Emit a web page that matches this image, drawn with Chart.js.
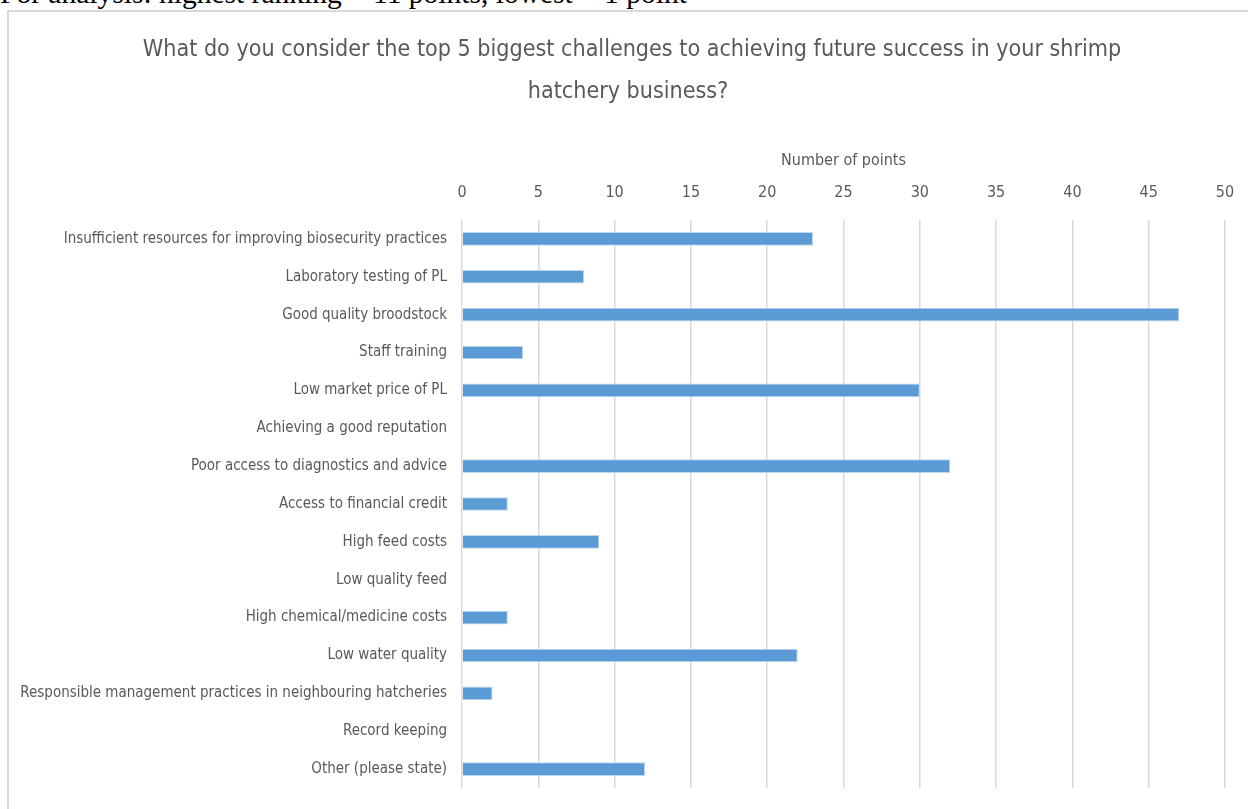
<!DOCTYPE html>
<html>
<head>
<meta charset="utf-8">
<script src="https://cdn.jsdelivr.net/npm/chart.js@4"></script>
<style>
  body { margin: 0; background: #fff; overflow: hidden; }
  #note { position: absolute; left: 0; top: -21px; font: 29.5px "Liberation Serif", "DejaVu Serif", serif; line-height: 1; color: #000; white-space: nowrap; }
  #frame { position: absolute; left: 7px; top: 10px; width: 1260px; height: 820px; border: 2px solid #d9d9d9; }
  #wrap { position: absolute; left: 0; top: 0; width: 1248px; height: 809px; }
</style>
</head>
<body>
<div id="note">For analysis: highest ranking = 11 points, lowest = 1 point</div>
<div id="frame"></div>
<div id="wrap"><canvas id="myChart" width="1248" height="809"></canvas></div>
<script>
const categories = [
    'Insufficient resources for improving biosecurity practices',
    'Laboratory testing of PL',
    'Good quality broodstock',
    'Staff training',
    'Low market price of PL',
    'Achieving a good reputation',
    'Poor access to diagnostics and advice',
    'Access to financial credit',
    'High feed costs',
    'Low quality feed',
    'High chemical/medicine costs',
    'Low water quality',
    'Responsible management practices in neighbouring hatcheries',
    'Record keeping',
    'Other (please state)'
];
const points = [23, 8, 47, 4, 30, 0, 32, 3, 9, 0, 3, 22, 2, 0, 12];
const tickValues = [0, 5, 10, 15, 20, 25, 30, 35, 40, 45, 50];
const titleLines = ['What do you consider the top 5 biggest challenges to achieving future success in your shrimp', 'hatchery business?'];

const textColor = '#595959';

// pick the narrowest installed sans family (the original uses Calibri)
const ctx = document.createElement('canvas').getContext('2d');
function hasFont(name) {
    ctx.font = '40px monospace';
    const a = ctx.measureText('abcdefghijklmnopqrstuvwxyz').width;
    ctx.font = '40px "' + name + '", monospace';
    return ctx.measureText('abcdefghijklmnopqrstuvwxyz').width !== a;
}
const family = ['Liberation Sans Narrow', 'DejaVu Sans Condensed', 'Roboto', 'Lato', 'Open Sans'].find(hasFont) || 'sans-serif';
const fam = '"' + family + '", sans-serif';
function fitSize(text, target, max) {
    ctx.font = '100px ' + fam;
    return Math.min(max, 100 * target / ctx.measureText(text).width);
}
const labelSize = fitSize(categories[12], 427, 17);
const titleSize = fitSize(titleLines[0], 979, 24);

// chart title, centred on the outer chart frame like the original
const frameTitle = {
    id: 'frameTitle',
    afterDraw(chart) {
        const c = chart.ctx;
        c.save();
        c.fillStyle = textColor;
        c.font = titleSize + 'px ' + fam;
        c.textAlign = 'center';
        c.textBaseline = 'middle';
        c.fillText(titleLines[0], 632, 50);
        c.fillText(titleLines[1], 628, 92);
        c.restore();
    }
};

new Chart(document.getElementById("myChart"), {
    type: 'bar',
    data: {
        labels: categories,
        datasets: [{
            label: 'Number of points',
            data: points,
            backgroundColor: '#5b9bd5',
            borderColor: '#bdd7ee',
            borderWidth: 1,
            barPercentage: 0.36,
            categoryPercentage: 1
        }]
    },
    options: {
        indexAxis: 'y',
        responsive: false,
        animation: false,
        layout: { padding: { left: 0, right: 23, top: 140, bottom: 21 } },
        plugins: {
            legend: { display: false },
            tooltip: { enabled: false },
            title: { display: false }
        },
        scales: {
            x: {
                position: 'top',
                min: 0,
                max: 50,
                afterBuildTicks: (scale) => { scale.ticks = tickValues.map(v => ({ value: v })); },
                afterFit: (scale) => {
                    scale.height = 80;
                    scale.paddingLeft = 0;
                    scale.paddingRight = 0;
                },
                grid: { color: '#d9d9d9', lineWidth: 1.5, drawTicks: false },
                border: { display: false },
                ticks: { color: textColor, padding: 18, font: { family: fam, size: labelSize + 1 } },
                title: {
                    display: true,
                    text: 'Number of points',
                    color: textColor,
                    font: { family: fam, size: labelSize + 1 },
                    padding: { top: 11, bottom: 0 }
                }
            },
            y: {
                afterFit: (scale) => {
                    scale.width = 462;
                    scale.paddingTop = 0;
                    scale.paddingBottom = 0;
                },
                grid: { display: false, drawTicks: false },
                border: { display: false },
                ticks: { color: textColor, padding: 15, font: { family: fam, size: labelSize } }
            }
        }
    },
    plugins: [frameTitle]
});
</script>
</body>
</html>
